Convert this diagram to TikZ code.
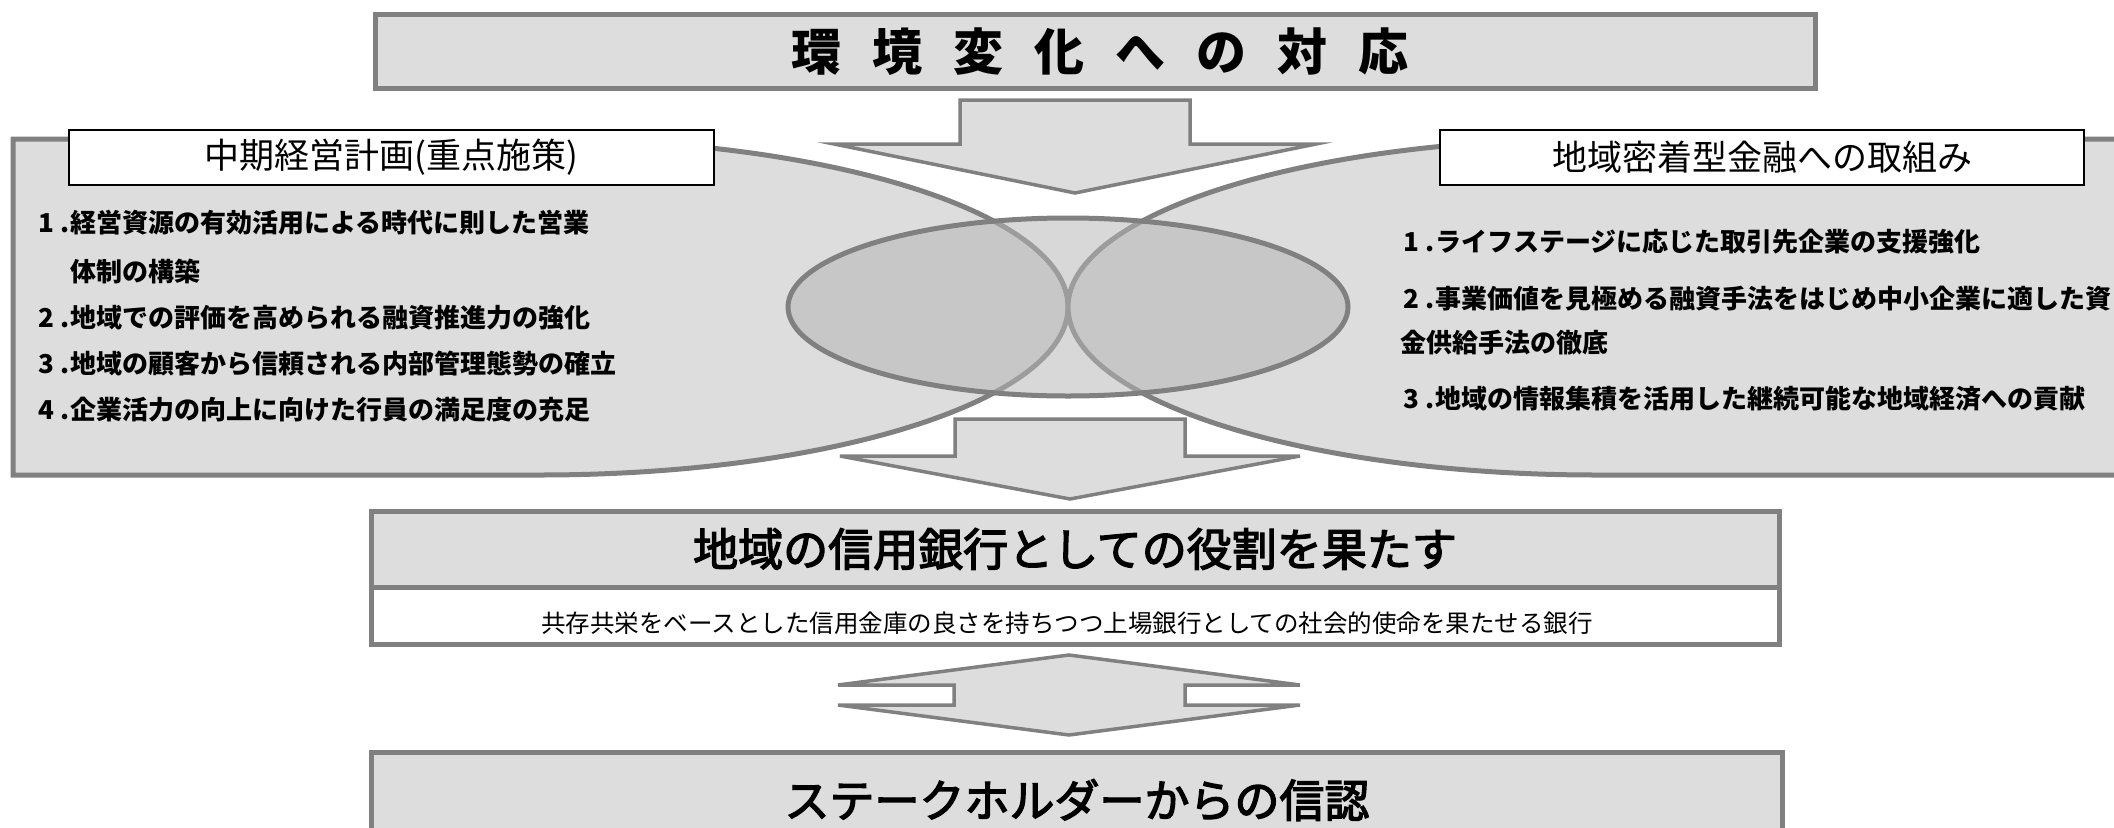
\documentclass[tikz,border=0pt]{standalone}
\usepackage{fontspec}
\setmainfont{Noto Sans CJK JP}
\newfontfamily\medfont[FakeBold=3]{Noto Sans CJK JP}
\definecolor{panel}{HTML}{DDDDDD}
\definecolor{edge}{HTML}{808080}
\definecolor{lensfill}{HTML}{B5B5B5}
\newcommand{\fs}[1]{\fontsize{#1}{#1}\selectfont}
\newcommand{\itm}[1]{\makebox[32pt][l]{#1\hspace{6pt}.}}
\tikzset{
  panelbox/.style={draw=edge, fill=panel, line width=5pt, line join=miter},
  arrowshape/.style={draw=edge, fill=panel, line width=3.5pt, line join=miter},
  labelbox/.style={draw=black, fill=white, line width=2pt},
  listtext/.style={anchor=west, inner sep=0pt, font=\fs{26}\bfseries},
  labeltext/.style={inner sep=0pt, font=\fs{35}},
  bigtitle/.style={inner sep=0pt, font=\medfont\fs{45}},
}
\begin{document}
\begin{tikzpicture}[x=1pt,y=1pt]
\useasboundingbox (0,0) rectangle (2114,-827);
% panels
\draw[panelbox] (13,-139) -- (540,-139) arc[start angle=90, end angle=-90, x radius=528, y radius=168] -- (13,-475) -- cycle;
\draw[panelbox] (2135,-139) -- (1596,-139) arc[start angle=90, end angle=270, x radius=528, y radius=168] -- (2135,-475) -- cycle;
% central ellipse
\draw[draw=edge, line width=5pt, fill=lensfill, fill opacity=0.53] (1068,-307) ellipse[x radius=280, y radius=89];
% top box
\draw[panelbox] (375,-14) rectangle (1815,-88);
\node[inner sep=0pt, font=\fs{50}\bfseries] (title) at (1100,-52) {環\hspace{31pt}境\hspace{31pt}変\hspace{31pt}化\hspace{31pt}へ\hspace{31pt}の\hspace{31pt}対\hspace{31pt}応};
% arrows
\draw[arrowshape] (960,-100) -- (1190,-100) -- (1190,-144) -- (1316,-144) -- (1075,-193) -- (834,-144) -- (960,-144) -- cycle;
\draw[arrowshape] (955,-419) -- (1185,-419) -- (1185,-456) -- (1300,-456) -- (1070,-499) -- (840,-456) -- (955,-456) -- cycle;
\draw[arrowshape] (1069,-655) -- (1300,-685) -- (1185,-685) -- (1185,-705) -- (1300,-705) -- (1069,-735) -- (838,-705) -- (954,-705) -- (954,-685) -- (838,-685) -- cycle;
% label boxes
\draw[labelbox] (69,-130) rectangle (714,-185);
\node[labeltext] (leftlabel) at (391,-157) {中期経営計画(重点施策)};
\draw[labelbox] (1440,-130) rectangle (2084,-185);
\node[labeltext] (rightlabel) at (1762,-157) {地域密着型金融への取組み};
% left list
\node[listtext] (l1) at (38,-223) {\itm{1}経営資源の有効活用による時代に則した営業};
\node[listtext] (l1b) at (70,-271) {体制の構築};
\node[listtext] (l2) at (38,-318) {\itm{2}地域での評価を高められる融資推進力の強化};
\node[listtext] (l3) at (38,-364) {\itm{3}地域の顧客から信頼される内部管理態勢の確立};
\node[listtext] (l4) at (38,-410) {\itm{4}企業活力の向上に向けた行員の満足度の充足};
% right list
\node[listtext] (r1) at (1403,-242) {\itm{1}ライフステージに応じた取引先企業の支援強化};
\node[listtext] (r2) at (1403,-299) {\itm{2}事業価値を見極める融資手法をはじめ中小企業に適した資};
\node[listtext] (r2b) at (1400,-343) {金供給手法の徹底};
\node[listtext] (r3) at (1403,-399) {\itm{3}地域の情報集積を活用した継続可能な地域経済への貢献};
% middle box
\draw[panelbox] (371,-511) rectangle (1779,-587);
\draw[draw=edge, fill=white, line width=5pt] (371,-587) rectangle (1779,-644);
\node[bigtitle] (role) at (1075,-549) {地域の信用銀行としての役割を果たす};
\node[inner sep=0pt, font=\fs{24.5}] (roledesc) at (1067,-623) {共存共栄をベースとした信用金庫の良さを持ちつつ上場銀行としての社会的使命を果たせる銀行};
% bottom box
\draw[panelbox] (371,-752) rectangle (1782,-845);
\node[bigtitle] (trust) at (1077,-800) {ステークホルダーからの信認};
\end{tikzpicture}
\end{document}
